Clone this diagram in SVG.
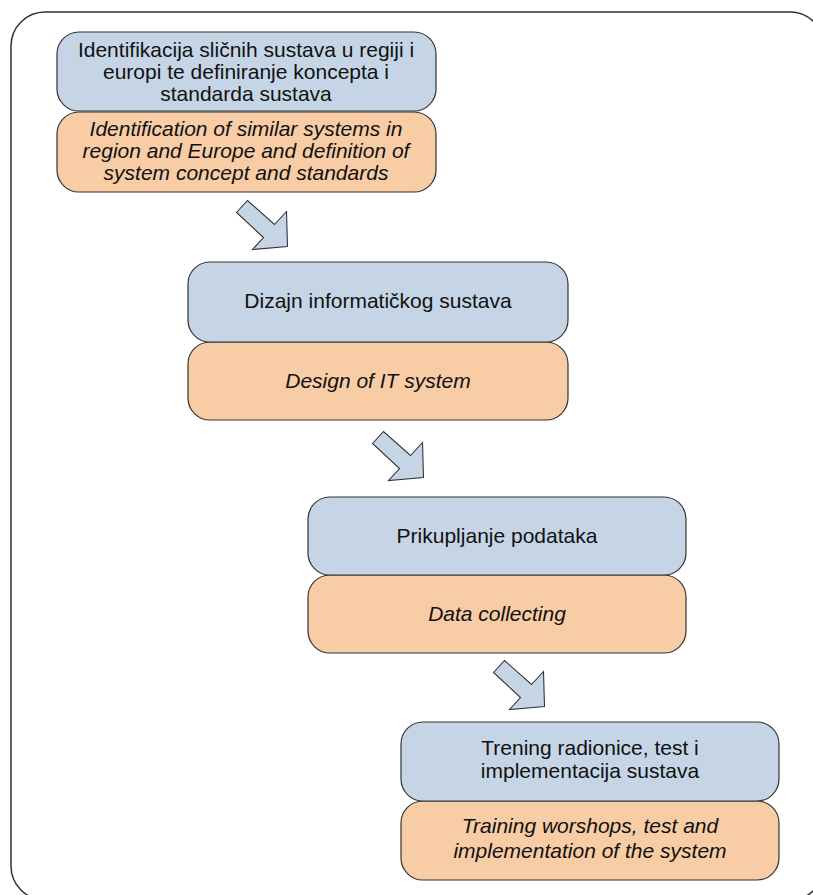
<svg xmlns="http://www.w3.org/2000/svg" xmlns:xlink="http://www.w3.org/1999/xlink" width="813" height="895" viewBox="0 0 813 895">
  <style>
    .frame { fill: #ffffff; stroke: #333333; stroke-width: 1.5; }
    .hr { fill: #c6d5e6; stroke: #333333; stroke-width: 1.2; }
    .en { fill: #f8cca5; stroke: #333333; stroke-width: 1.2; }
    .arrow { fill: #c6d5e6; stroke: #333333; stroke-width: 1.1; stroke-linejoin: miter; }
    text { font-family: "Liberation Sans", Arial, sans-serif; font-size: 21px; fill: #111111; text-anchor: middle; }
    .it { font-style: italic; }
  </style>
  <defs>
    <!-- block arrow pointing down-right, tip at the origin -->
    <path id="stepArrow" class="arrow" d="M-51,-34 L-40,-46 L-13,-22 L-1,-35 L0,0 L-35,3 L-24,-9 Z"/>
  </defs>

  <!-- outer frame -->
  <rect class="frame" x="11" y="12" width="813" height="888" rx="34" ry="34"/>

  <!-- connectors -->
  <g id="connectors">
    <use xlink:href="#stepArrow" transform="translate(287.5,246.5)"/>
    <use xlink:href="#stepArrow" transform="translate(423.5,477.5)"/>
    <use xlink:href="#stepArrow" transform="translate(544.5,706.5)"/>
  </g>

  <!-- step 1 -->
  <g id="step1">
    <rect class="en" x="57" y="112" width="379" height="80" rx="22" ry="22"/>
    <rect class="hr" x="57" y="32" width="379" height="79" rx="22" ry="22"/>
    <text x="246" y="57">Identifikacija sličnih sustava u regiji i</text>
    <text x="246" y="79">europi te definiranje koncepta i</text>
    <text x="246" y="101">standarda sustava</text>
    <text class="it" x="246" y="136">Identification of similar systems in</text>
    <text class="it" x="246" y="158">region and Europe and definition of</text>
    <text class="it" x="246" y="180">system concept and standards</text>
  </g>

  <!-- step 2 -->
  <g id="step2">
    <rect class="en" x="188" y="342" width="380" height="78" rx="22" ry="22"/>
    <rect class="hr" x="188" y="262" width="380" height="80" rx="22" ry="22"/>
    <text x="378" y="308">Dizajn informatičkog sustava</text>
    <text class="it" x="378" y="388">Design of IT system</text>
  </g>

  <!-- step 3 -->
  <g id="step3">
    <rect class="en" x="308" y="575" width="378" height="78" rx="22" ry="22"/>
    <rect class="hr" x="308" y="497" width="378" height="78" rx="22" ry="22"/>
    <text x="497" y="543">Prikupljanje podataka</text>
    <text class="it" x="497" y="621">Data collecting</text>
  </g>

  <!-- step 4 -->
  <g id="step4">
    <rect class="en" x="401" y="801" width="378" height="79" rx="22" ry="22"/>
    <rect class="hr" x="401" y="722" width="378" height="79" rx="22" ry="22"/>
    <text x="590" y="755">Trening radionice, test i</text>
    <text x="590" y="778">implementacija sustava</text>
    <text class="it" x="590" y="833">Training worshops, test and</text>
    <text class="it" x="590" y="858">implementation of the system</text>
  </g>
</svg>
